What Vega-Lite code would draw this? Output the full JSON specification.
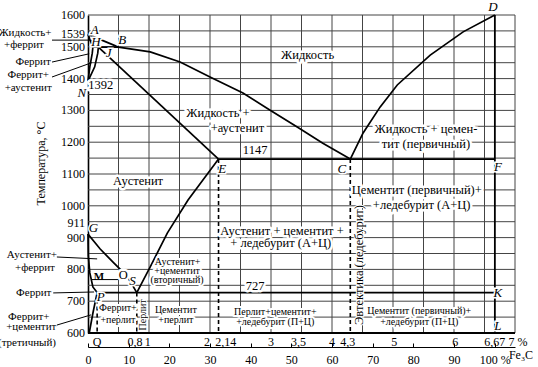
{
  "$schema": "https://vega.github.io/schema/vega-lite/v6.json",
  "width": 427,
  "height": 318,
  "autosize": {"type": "none"},
  "padding": {"left": 88, "top": 15, "right": 23, "bottom": 34},
  "background": "white",
  "config": {"view": {"stroke": null}, "text": {"font": "Liberation Serif", "color": "black"}, "axis": {"labelOverlap": false, "labelFlush": false}},
  "datasets": {
    "gridv": [{"c":0.5},{"c":1},{"c":1.5},{"c":2},{"c":2.5},{"c":3},{"c":3.5},{"c":4},{"c":4.5},{"c":5},{"c":5.5},{"c":6},{"c":6.5},{"c":7}],
    "gridh": [{"t":650},{"t":700},{"t":750},{"t":800},{"t":850},{"t":900},{"t":950},{"t":1000},{"t":1050},{"t":1100},{"t":1150},{"t":1200},{"t":1250},{"t":1300},{"t":1350},{"t":1400},{"t":1450},{"t":1500},{"t":1550},{"t":1600}],
    "curves": [
      {"s":"ABC","i":0,"c":0,"t":1539},{"s":"ABC","i":1,"c":0.5,"t":1499},{"s":"ABC","i":2,"c":1.02,"t":1484},{"s":"ABC","i":3,"c":1.51,"t":1452},{"s":"ABC","i":4,"c":2.0,"t":1405},{"s":"ABC","i":5,"c":2.54,"t":1355},{"s":"ABC","i":6,"c":2.98,"t":1301},{"s":"ABC","i":7,"c":3.43,"t":1248},{"s":"ABC","i":8,"c":3.85,"t":1197},{"s":"ABC","i":9,"c":4.3,"t":1147},
      {"s":"CD","i":0,"c":4.3,"t":1147},{"s":"CD","i":1,"c":4.51,"t":1229},{"s":"CD","i":2,"c":4.79,"t":1311},{"s":"CD","i":3,"c":5.07,"t":1380},{"s":"CD","i":4,"c":5.61,"t":1474},{"s":"CD","i":5,"c":6.15,"t":1547},{"s":"CD","i":6,"c":6.67,"t":1600},
      {"s":"AH","i":0,"c":0,"t":1539},{"s":"AH","i":1,"c":0.08,"t":1499},
      {"s":"HN","i":0,"c":0.08,"t":1499},{"s":"HN","i":1,"c":0.07,"t":1480},{"s":"HN","i":2,"c":0.03,"t":1437},{"s":"HN","i":3,"c":0,"t":1392},
      {"s":"JN","i":0,"c":0.17,"t":1499},{"s":"JN","i":1,"c":0.16,"t":1480},{"s":"JN","i":2,"c":0.11,"t":1437},{"s":"JN","i":3,"c":0,"t":1392},
      {"s":"JE","i":0,"c":0.17,"t":1499},{"s":"JE","i":1,"c":2.14,"t":1147},
      {"s":"ES","i":0,"c":2.14,"t":1147},{"s":"ES","i":1,"c":1.64,"t":1018},{"s":"ES","i":2,"c":1.3,"t":914},{"s":"ES","i":3,"c":1.02,"t":808},{"s":"ES","i":4,"c":0.8,"t":727},
      {"s":"GS","i":0,"c":0,"t":911},{"s":"GS","i":1,"c":0.2,"t":864},{"s":"GS","i":2,"c":0.41,"t":823},{"s":"GS","i":3,"c":0.64,"t":779},{"s":"GS","i":4,"c":0.8,"t":727},
      {"s":"GP","i":0,"c":0,"t":911},{"s":"GP","i":1,"c":0.005,"t":842},{"s":"GP","i":2,"c":0.03,"t":789},{"s":"GP","i":3,"c":0.08,"t":745},{"s":"GP","i":4,"c":0.15,"t":727},
      {"s":"PQ","i":0,"c":0.15,"t":727},{"s":"PQ","i":1,"c":0.08,"t":662},{"s":"PQ","i":2,"c":0.02,"t":600}
    ],
    "segments": [
      {"c1":2.14,"t1":1147,"c2":6.67,"t2":1147},
      {"c1":0.15,"t1":727,"c2":6.67,"t2":727},
      {"c1":0.08,"t1":1499,"c2":0.5,"t2":1499},
      {"c1":6.67,"t1":600,"c2":6.67,"t2":1600},
      {"c1":0,"t1":600,"c2":7,"t2":600}
    ],
    "thin": [
      {"c1":0.05,"t1":768,"c2":0.55,"t2":768},
      {"c1":-0.59,"t1":1521,"c2":0.1,"t2":1521},
      {"c1":-0.59,"t1":1452,"c2":0.02,"t2":1478},
      {"c1":-0.59,"t1":1405,"c2":0.06,"t2":1450},
      {"c1":-0.51,"t1":839,"c2":0.15,"t2":833},
      {"c1":-0.57,"t1":726,"c2":0.1,"t2":729},
      {"c1":-0.51,"t1":625,"c2":0.05,"t2":657}
    ],
    "dashed": [
      {"c":0.15,"t1":727,"t2":600},
      {"c":0.8,"t1":727,"t2":600},
      {"c":2.14,"t1":1147,"t2":600},
      {"c":4.3,"t1":1147,"t2":600}
    ],
    "big": [
      {"txt":"Жидкость","c":3.6,"t":1474},
      {"txt":"Жидкость +","c":2.13,"t":1292},
      {"txt":"+аустенит","c":2.45,"t":1245},
      {"txt":"1147","c":2.74,"t":1175},
      {"txt":"Аустенит","c":0.82,"t":1078},
      {"txt":"Жидкость + цемен-","c":5.54,"t":1241},
      {"txt":"тит (первичный)","c":5.54,"t":1194},
      {"txt":"Цементит (первичный)+","c":5.39,"t":1050},
      {"txt":"+ледебурит (А+Ц)","c":5.47,"t":1003},
      {"txt":"Аустенит + цементит +","c":3.18,"t":921},
      {"txt":"+ ледебурит (А+Ц)","c":3.16,"t":883},
      {"txt":"727","c":2.74,"t":748},
      {"txt":"1392","c":0.21,"t":1380},
      {"txt":"O","c":0.58,"t":782}
    ],
    "small": [
      {"txt":"Аустенит+","c":1.47,"t":823},
      {"txt":"+цементит","c":1.46,"t":795},
      {"txt":"(вторичный)","c":1.46,"t":767},
      {"txt":"Перлит+цементит+","c":3.07,"t":666},
      {"txt":"+ледебурит (П+Ц)","c":3.07,"t":635},
      {"txt":"Цементит","c":1.44,"t":672},
      {"txt":"+перлит","c":1.44,"t":641},
      {"txt":"Феррит+","c":0.49,"t":678},
      {"txt":"+перлит","c":0.49,"t":640},
      {"txt":"Цементит (первичный)+","c":5.43,"t":669},
      {"txt":"+ледебурит (П+Ц)","c":5.43,"t":635}
    ],
    "vbig": [{"txt":"Эвтектика (ледебурит)","c":4.45,"t":814}],
    "vsmall": [{"txt":"Перлит","c":0.9,"t":657}],
    "letters": [
      {"txt":"A","c":0.11,"t":1553},{"txt":"B","c":0.56,"t":1521},{"txt":"H","c":0.13,"t":1515},{"txt":"J","c":0.34,"t":1480},
      {"txt":"N","c":-0.1,"t":1355},{"txt":"G","c":0.09,"t":930},{"txt":"S","c":0.73,"t":763},{"txt":"P","c":0.21,"t":712},
      {"txt":"E","c":2.2,"t":1116},{"txt":"C","c":4.16,"t":1116},{"txt":"F","c":6.72,"t":1122},{"txt":"D","c":6.64,"t":1624},
      {"txt":"K","c":6.72,"t":726},{"txt":"L","c":6.72,"t":622}
    ],
    "mlabel": [{"txt":"M","c":0.18,"t":776}],
    "left": [
      {"txt":"Жидкость+","c":-1.03,"t":1543},
      {"txt":"+феррит","c":-1.05,"t":1506},
      {"txt":"Феррит","c":-0.9,"t":1452},
      {"txt":"Феррит+","c":-0.98,"t":1411},
      {"txt":"+аустенит","c":-0.98,"t":1370},
      {"txt":"Аустенит+","c":-0.92,"t":845},
      {"txt":"+феррит","c":-0.87,"t":804},
      {"txt":"Феррит","c":-0.89,"t":726},
      {"txt":"Феррит+","c":-0.97,"t":650},
      {"txt":"+цементит","c":-0.93,"t":619},
      {"txt":"(третичный)","c":-1.0,"t":569}
    ],
    "ylab": [
      {"txt":"600","c":-0.05,"t":600},{"txt":"700","c":-0.05,"t":700},{"txt":"800","c":-0.05,"t":800},{"txt":"900","c":-0.05,"t":900},
      {"txt":"911","c":-0.05,"t":946},{"txt":"1000","c":-0.05,"t":1000},{"txt":"1100","c":-0.05,"t":1100},{"txt":"1200","c":-0.05,"t":1200},
      {"txt":"1300","c":-0.05,"t":1300},{"txt":"1400","c":-0.05,"t":1400},{"txt":"1500","c":-0.05,"t":1500},{"txt":"1539","c":-0.05,"t":1541},
      {"txt":"1600","c":-0.05,"t":1600}
    ],
    "clab": [
      {"txt":"Q","c":0.15,"t":572},{"txt":"0,8","c":0.77,"t":572},{"txt":"1","c":0.98,"t":572},{"txt":"2","c":1.95,"t":572},
      {"txt":"2,14","c":2.26,"t":572},{"txt":"3","c":3.0,"t":572},{"txt":"3,5","c":3.45,"t":572},{"txt":"4","c":4.0,"t":572},
      {"txt":"4,3","c":4.26,"t":572},{"txt":"5","c":5.02,"t":572},{"txt":"6","c":6.02,"t":572},{"txt":"6,67","c":6.67,"t":572},{"txt":"7 %","c":7.05,"t":572}
    ],
    "fe3c": [{"txt":"Fe₃C","c":6.9,"t":530}]
  },
  "layer": [
    {
      "data": {"name": "gridv"},
      "mark": {"type": "rule", "color": "#444", "strokeWidth": 1},
      "encoding": {
        "x": {"field": "c", "type": "quantitative", "scale": {"domain": [0, 7], "nice": false, "zero": false},
          "axis": {"title": null, "grid": false, "offset": 14,
            "values": [0,0.333333,0.666667,1,1.333333,1.666667,2,2.333333,2.666667,3,3.333333,3.666667,4,4.333333,4.666667,5,5.333333,5.666667,6,6.333333,6.666667],
            "labelExpr": "round(datum.value*15) % 10 == 0 ? (round(datum.value*15) == 100 ? '100 %' : '' + round(datum.value*15)) : ''",
            "tickSize": -4, "tickColor": "black", "domainColor": "black", "domainWidth": 1,
            "labelFont": "Liberation Serif", "labelFontSize": 12, "labelColor": "black", "labelPadding": 11,
            "labelOverlap": false, "labelFlush": false}}
      }
    },
    {
      "data": {"name": "gridh"},
      "mark": {"type": "rule", "color": "#444", "strokeWidth": 1},
      "encoding": {
        "y": {"field": "t", "type": "quantitative", "scale": {"domain": [600, 1600], "nice": false, "zero": false},
          "axis": {"title": "Температура, °С", "grid": false, "ticks": false, "labels": false,
            "domainColor": "black", "domainWidth": 1.6,
            "titleFont": "Liberation Serif", "titleFontSize": 12, "titleFontWeight": "normal", "titleColor": "black",
            "titleX": -48, "titleY": 148, "titleAngle": 270, "titleAlign": "center", "titleBaseline": "middle"}}
      }
    },
    {
      "data": {"name": "segments"},
      "mark": {"type": "rule", "color": "black", "strokeWidth": 1.8, "clip": false},
      "encoding": {
        "x": {"field": "c1", "type": "quantitative"}, "x2": {"field": "c2"},
        "y": {"field": "t1", "type": "quantitative"}, "y2": {"field": "t2"}
      }
    },
    {
      "data": {"name": "thin"},
      "mark": {"type": "rule", "color": "black", "strokeWidth": 1, "clip": false},
      "encoding": {
        "x": {"field": "c1", "type": "quantitative"}, "x2": {"field": "c2"},
        "y": {"field": "t1", "type": "quantitative"}, "y2": {"field": "t2"}
      }
    },
    {
      "data": {"name": "dashed"},
      "mark": {"type": "rule", "color": "black", "strokeWidth": 1.6, "strokeDash": [4, 3]},
      "encoding": {
        "x": {"field": "c", "type": "quantitative"},
        "y": {"field": "t1", "type": "quantitative"}, "y2": {"field": "t2"}
      }
    },
    {
      "data": {"name": "curves"},
      "mark": {"type": "line", "color": "black", "strokeWidth": 1.7},
      "encoding": {
        "x": {"field": "c", "type": "quantitative"},
        "y": {"field": "t", "type": "quantitative"},
        "detail": {"field": "s"},
        "order": {"field": "i"}
      }
    },
    {
      "data": {"name": "big"},
      "mark": {"type": "text", "fontSize": 12.5, "fill": "white", "stroke": "white", "strokeWidth": 5, "strokeJoin": "round", "baseline": "middle"},
      "encoding": {"x": {"field": "c", "type": "quantitative"}, "y": {"field": "t", "type": "quantitative"}, "text": {"field": "txt"}}
    },
    {
      "data": {"name": "big"},
      "mark": {"type": "text", "fontSize": 12.5, "color": "black", "baseline": "middle"},
      "encoding": {"x": {"field": "c", "type": "quantitative"}, "y": {"field": "t", "type": "quantitative"}, "text": {"field": "txt"}}
    },
    {
      "data": {"name": "small"},
      "mark": {"type": "text", "fontSize": 10, "fill": "white", "stroke": "white", "strokeWidth": 4, "strokeJoin": "round", "baseline": "middle"},
      "encoding": {"x": {"field": "c", "type": "quantitative"}, "y": {"field": "t", "type": "quantitative"}, "text": {"field": "txt"}}
    },
    {
      "data": {"name": "small"},
      "mark": {"type": "text", "fontSize": 10, "color": "black", "baseline": "middle"},
      "encoding": {"x": {"field": "c", "type": "quantitative"}, "y": {"field": "t", "type": "quantitative"}, "text": {"field": "txt"}}
    },
    {
      "data": {"name": "vbig"},
      "mark": {"type": "text", "fontSize": 12.5, "angle": 270, "fill": "white", "stroke": "white", "strokeWidth": 2, "baseline": "middle"},
      "encoding": {"x": {"field": "c", "type": "quantitative"}, "y": {"field": "t", "type": "quantitative"}, "text": {"field": "txt"}}
    },
    {
      "data": {"name": "vbig"},
      "mark": {"type": "text", "fontSize": 12.5, "angle": 270, "color": "black", "baseline": "middle"},
      "encoding": {"x": {"field": "c", "type": "quantitative"}, "y": {"field": "t", "type": "quantitative"}, "text": {"field": "txt"}}
    },
    {
      "data": {"name": "vsmall"},
      "mark": {"type": "text", "fontSize": 10, "angle": 270, "fill": "white", "stroke": "white", "strokeWidth": 2, "baseline": "middle"},
      "encoding": {"x": {"field": "c", "type": "quantitative"}, "y": {"field": "t", "type": "quantitative"}, "text": {"field": "txt"}}
    },
    {
      "data": {"name": "vsmall"},
      "mark": {"type": "text", "fontSize": 10, "angle": 270, "color": "black", "baseline": "middle"},
      "encoding": {"x": {"field": "c", "type": "quantitative"}, "y": {"field": "t", "type": "quantitative"}, "text": {"field": "txt"}}
    },
    {
      "data": {"name": "letters"},
      "mark": {"type": "text", "fontSize": 13, "fontStyle": "italic", "fill": "white", "stroke": "white", "strokeWidth": 3, "baseline": "middle", "clip": false},
      "encoding": {"x": {"field": "c", "type": "quantitative"}, "y": {"field": "t", "type": "quantitative"}, "text": {"field": "txt"}}
    },
    {
      "data": {"name": "letters"},
      "mark": {"type": "text", "fontSize": 13, "fontStyle": "italic", "color": "black", "baseline": "middle", "clip": false},
      "encoding": {"x": {"field": "c", "type": "quantitative"}, "y": {"field": "t", "type": "quantitative"}, "text": {"field": "txt"}}
    },
    {
      "data": {"name": "mlabel"},
      "mark": {"type": "text", "fontSize": 11, "fontWeight": "bold", "color": "black", "baseline": "middle"},
      "encoding": {"x": {"field": "c", "type": "quantitative"}, "y": {"field": "t", "type": "quantitative"}, "text": {"field": "txt"}}
    },
    {
      "data": {"name": "left"},
      "mark": {"type": "text", "fontSize": 11, "color": "black", "baseline": "middle", "clip": false},
      "encoding": {"x": {"field": "c", "type": "quantitative"}, "y": {"field": "t", "type": "quantitative"}, "text": {"field": "txt"}}
    },
    {
      "data": {"name": "ylab"},
      "mark": {"type": "text", "fontSize": 12, "color": "black", "align": "right", "baseline": "middle", "clip": false},
      "encoding": {"x": {"field": "c", "type": "quantitative"}, "y": {"field": "t", "type": "quantitative"}, "text": {"field": "txt"}}
    },
    {
      "data": {"name": "clab"},
      "mark": {"type": "text", "fontSize": 12, "color": "black", "baseline": "middle", "clip": false},
      "encoding": {"x": {"field": "c", "type": "quantitative"}, "y": {"field": "t", "type": "quantitative"}, "text": {"field": "txt"}}
    },
    {
      "data": {"name": "fe3c"},
      "mark": {"type": "text", "fontSize": 12, "color": "black", "align": "left", "baseline": "middle", "clip": false},
      "encoding": {"x": {"field": "c", "type": "quantitative"}, "y": {"field": "t", "type": "quantitative"}, "text": {"field": "txt"}}
    }
  ]
}
